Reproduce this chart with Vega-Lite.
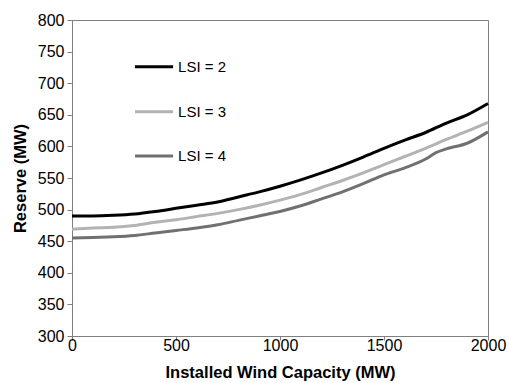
{
  "$schema": "https://vega.github.io/schema/vega-lite/v6.json",
  "width": 416,
  "height": 316,
  "autosize": {"type": "none"},
  "padding": {"left": 72, "top": 20, "right": 21, "bottom": 47},
  "config": {
    "font": "Liberation Sans",
    "view": {"stroke": "#808080", "strokeWidth": 1},
    "axis": {
      "grid": false,
      "domainColor": "#808080",
      "tickColor": "#808080",
      "labelColor": "#000000",
      "titleColor": "#000000",
      "labelFont": "Liberation Sans",
      "titleFont": "Liberation Sans",
      "labelFontSize": 16,
      "titleFontSize": 16.5,
      "titleFontWeight": "bold",
      "labelOverlap": false,
      "labelFlush": false
    }
  },
  "datasets": {
    "curves": [
      {"cap": 0, "reserve": 490, "series": "LSI = 2"},
      {"cap": 100, "reserve": 490, "series": "LSI = 2"},
      {"cap": 200, "reserve": 491, "series": "LSI = 2"},
      {"cap": 300, "reserve": 493, "series": "LSI = 2"},
      {"cap": 400, "reserve": 497, "series": "LSI = 2"},
      {"cap": 500, "reserve": 502, "series": "LSI = 2"},
      {"cap": 600, "reserve": 507, "series": "LSI = 2"},
      {"cap": 700, "reserve": 512, "series": "LSI = 2"},
      {"cap": 800, "reserve": 520, "series": "LSI = 2"},
      {"cap": 900, "reserve": 528, "series": "LSI = 2"},
      {"cap": 1000, "reserve": 537, "series": "LSI = 2"},
      {"cap": 1100, "reserve": 547, "series": "LSI = 2"},
      {"cap": 1200, "reserve": 558, "series": "LSI = 2"},
      {"cap": 1300, "reserve": 570, "series": "LSI = 2"},
      {"cap": 1400, "reserve": 583, "series": "LSI = 2"},
      {"cap": 1500, "reserve": 597, "series": "LSI = 2"},
      {"cap": 1600, "reserve": 610, "series": "LSI = 2"},
      {"cap": 1700, "reserve": 622, "series": "LSI = 2"},
      {"cap": 1800, "reserve": 637, "series": "LSI = 2"},
      {"cap": 1900, "reserve": 650, "series": "LSI = 2"},
      {"cap": 2000, "reserve": 668, "series": "LSI = 2"},
      {"cap": 0, "reserve": 469, "series": "LSI = 3"},
      {"cap": 100, "reserve": 471, "series": "LSI = 3"},
      {"cap": 200, "reserve": 472, "series": "LSI = 3"},
      {"cap": 300, "reserve": 475, "series": "LSI = 3"},
      {"cap": 400, "reserve": 480, "series": "LSI = 3"},
      {"cap": 500, "reserve": 484, "series": "LSI = 3"},
      {"cap": 600, "reserve": 489, "series": "LSI = 3"},
      {"cap": 700, "reserve": 494, "series": "LSI = 3"},
      {"cap": 800, "reserve": 500, "series": "LSI = 3"},
      {"cap": 900, "reserve": 507, "series": "LSI = 3"},
      {"cap": 1000, "reserve": 515, "series": "LSI = 3"},
      {"cap": 1100, "reserve": 524, "series": "LSI = 3"},
      {"cap": 1200, "reserve": 535, "series": "LSI = 3"},
      {"cap": 1300, "reserve": 546, "series": "LSI = 3"},
      {"cap": 1400, "reserve": 558, "series": "LSI = 3"},
      {"cap": 1500, "reserve": 571, "series": "LSI = 3"},
      {"cap": 1600, "reserve": 584, "series": "LSI = 3"},
      {"cap": 1700, "reserve": 597, "series": "LSI = 3"},
      {"cap": 1800, "reserve": 611, "series": "LSI = 3"},
      {"cap": 1900, "reserve": 624, "series": "LSI = 3"},
      {"cap": 2000, "reserve": 638, "series": "LSI = 3"},
      {"cap": 0, "reserve": 455, "series": "LSI = 4"},
      {"cap": 100, "reserve": 456, "series": "LSI = 4"},
      {"cap": 200, "reserve": 457, "series": "LSI = 4"},
      {"cap": 300, "reserve": 459, "series": "LSI = 4"},
      {"cap": 400, "reserve": 463, "series": "LSI = 4"},
      {"cap": 500, "reserve": 467, "series": "LSI = 4"},
      {"cap": 600, "reserve": 471, "series": "LSI = 4"},
      {"cap": 700, "reserve": 476, "series": "LSI = 4"},
      {"cap": 800, "reserve": 483, "series": "LSI = 4"},
      {"cap": 900, "reserve": 490, "series": "LSI = 4"},
      {"cap": 1000, "reserve": 497, "series": "LSI = 4"},
      {"cap": 1100, "reserve": 506, "series": "LSI = 4"},
      {"cap": 1200, "reserve": 517, "series": "LSI = 4"},
      {"cap": 1300, "reserve": 528, "series": "LSI = 4"},
      {"cap": 1400, "reserve": 541, "series": "LSI = 4"},
      {"cap": 1500, "reserve": 555, "series": "LSI = 4"},
      {"cap": 1600, "reserve": 566, "series": "LSI = 4"},
      {"cap": 1700, "reserve": 580, "series": "LSI = 4"},
      {"cap": 1750, "reserve": 590, "series": "LSI = 4"},
      {"cap": 1800, "reserve": 596, "series": "LSI = 4"},
      {"cap": 1900, "reserve": 605, "series": "LSI = 4"},
      {"cap": 2000, "reserve": 623, "series": "LSI = 4"}
    ],
    "legend": [
      {"x1": 303, "x2": 486, "xt": 510, "y": 726, "series": "LSI = 2"},
      {"x1": 303, "x2": 486, "xt": 510, "y": 655, "series": "LSI = 3"},
      {"x1": 303, "x2": 486, "xt": 510, "y": 585, "series": "LSI = 4"}
    ]
  },
  "encoding": {
    "x": {
      "field": "cap", "type": "quantitative",
      "scale": {"domain": [0, 2000], "nice": false},
      "axis": {"values": [0, 500, 1000, 1500, 2000], "format": "d", "title": "Installed Wind Capacity (MW)", "tickSize": 4, "labelPadding": -3, "titlePadding": 11}
    },
    "y": {
      "field": "reserve", "type": "quantitative",
      "scale": {"domain": [300, 800], "nice": false, "zero": false},
      "axis": {"values": [300, 350, 400, 450, 500, 550, 600, 650, 700, 750, 800], "format": "d", "title": "Reserve (MW)", "tickSize": 5, "labelPadding": 3, "titlePadding": 9}
    },
    "color": {
      "field": "series", "type": "nominal",
      "scale": {"domain": ["LSI = 2", "LSI = 3", "LSI = 4"], "range": ["#000000", "#b3b3b3", "#707070"]},
      "legend": null
    }
  },
  "layer": [
    {
      "data": {"name": "curves"},
      "mark": {"type": "line", "strokeWidth": 3, "interpolate": "monotone"}
    },
    {
      "data": {"name": "legend"},
      "mark": {"type": "rule", "strokeWidth": 3},
      "encoding": {
        "x": {"field": "x1", "type": "quantitative"},
        "x2": {"field": "x2"},
        "y": {"field": "y", "type": "quantitative"}
      }
    },
    {
      "data": {"name": "legend"},
      "mark": {"type": "text", "align": "left", "baseline": "middle", "fontSize": 15, "font": "Liberation Sans"},
      "encoding": {
        "x": {"field": "xt", "type": "quantitative"},
        "y": {"field": "y", "type": "quantitative"},
        "text": {"field": "series"},
        "color": {"value": "#000000"}
      }
    }
  ]
}
